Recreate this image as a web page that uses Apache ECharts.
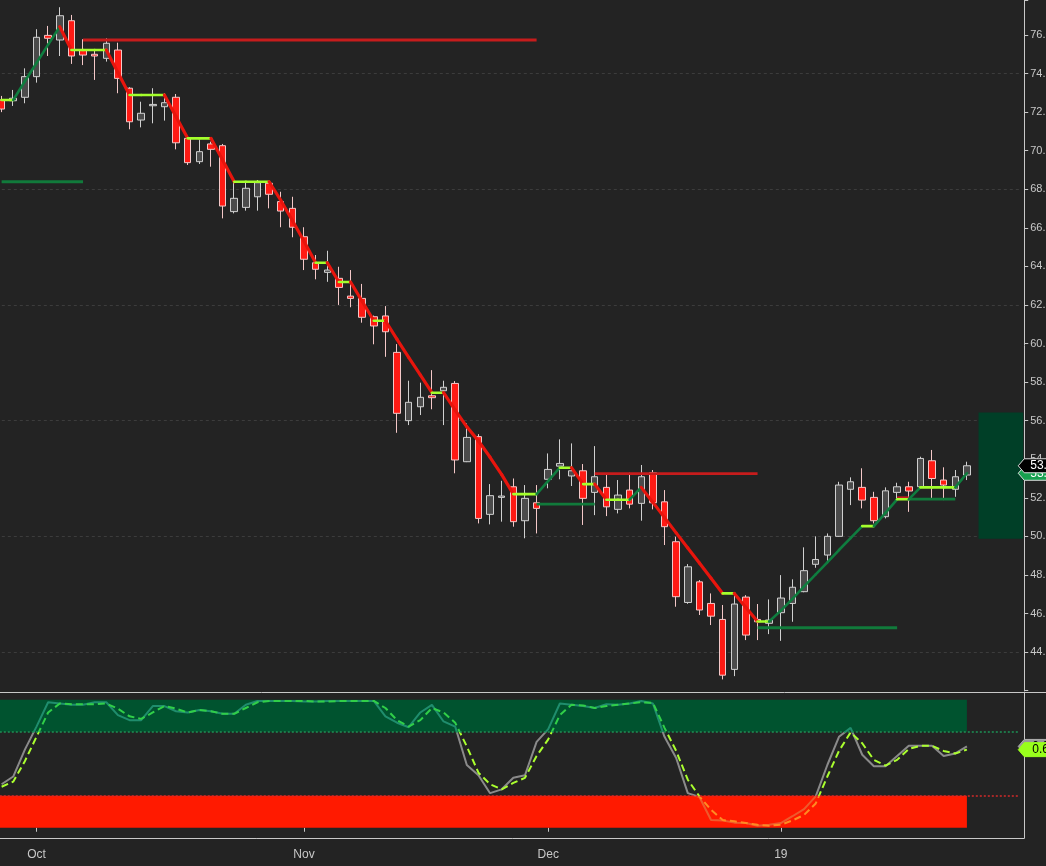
<!DOCTYPE html>
<html>
<head>
<meta charset="utf-8">
<script src="https://cdn.jsdelivr.net/npm/echarts@6/dist/echarts.min.js"></script>
<style>
html,body{margin:0;padding:0;background:#232323;}
#chart{width:1046px;height:866px;}
</style>
</head>
<body>
<div id="chart"></div>
<script>
// ---------------- DATA ----------------
const dates = [
'2018-09-26','2018-09-27','2018-09-28',
'2018-10-01','2018-10-02','2018-10-03','2018-10-04','2018-10-05',
'2018-10-08','2018-10-09','2018-10-10','2018-10-11','2018-10-12',
'2018-10-15','2018-10-16','2018-10-17','2018-10-18','2018-10-19',
'2018-10-22','2018-10-23','2018-10-24','2018-10-25','2018-10-26',
'2018-10-29','2018-10-30','2018-10-31',
'2018-11-01','2018-11-02',
'2018-11-05','2018-11-06','2018-11-07','2018-11-08','2018-11-09',
'2018-11-12','2018-11-13','2018-11-14','2018-11-15','2018-11-16',
'2018-11-19','2018-11-20','2018-11-21','2018-11-23',
'2018-11-26','2018-11-27','2018-11-28','2018-11-29','2018-11-30',
'2018-12-03','2018-12-04','2018-12-05','2018-12-06','2018-12-07',
'2018-12-10','2018-12-11','2018-12-12','2018-12-13','2018-12-14',
'2018-12-17','2018-12-18','2018-12-19','2018-12-20','2018-12-21',
'2018-12-24','2018-12-26','2018-12-27','2018-12-28',
'2018-12-31',
'2019-01-02','2019-01-03','2019-01-04',
'2019-01-07','2019-01-08','2019-01-09','2019-01-10','2019-01-11',
'2019-01-14','2019-01-15','2019-01-16','2019-01-17','2019-01-18',
'2019-01-22','2019-01-23','2019-01-24','2019-01-25',
'2019-01-28','2019-01-29','2019-01-30','2019-01-31'
];

const opens = [72.63,72.59,72.77,73.84,75.98,75.74,76.74,75.22,75.00,74.79,
75.22,73.24,71.59,72.33,72.28,72.77,70.64,69.43,70.35,70.26,
66.84,67.06,67.61,68.31,67.36,67.01,65.54,64.19,63.69,63.38,
62.46,62.34,61.39,61.43,59.54,56.00,56.72,57.29,57.55,57.93,
53.87,55.17,51.14,52.02,52.57,50.81,51.74,52.96,53.64,53.13,
53.40,52.28,52.54,51.40,52.40,51.71,53.30,51.79,49.72,46.57,
47.64,46.52,45.69,43.10,46.85,45.69,45.49,46.04,46.52,47.13,
48.55,49.03,50.00,52.44,52.54,52.02,51.02,52.28,52.57,52.57,
53.92,52.92,52.44,53.18];
const closes = [72.16,72.72,73.84,75.88,75.83,77.00,74.91,74.96,74.91,75.57,
73.75,71.50,71.94,72.40,72.49,70.41,69.38,69.95,70.07,67.13,
67.53,68.05,68.34,67.74,66.87,66.03,64.37,63.85,63.81,62.91,
62.34,61.36,60.91,60.61,56.38,56.95,57.21,57.19,57.73,53.96,
55.13,50.93,52.11,52.09,50.76,51.97,51.45,53.47,53.78,53.40,
51.97,53.09,51.53,52.14,51.67,53.09,51.74,50.50,46.87,48.42,
46.18,45.86,42.80,46.49,44.88,45.57,45.66,46.80,47.36,48.22,
48.80,50.00,52.66,52.83,51.88,50.81,52.36,52.57,52.35,54.04,
53.00,52.66,53.09,53.66];
const lows = [72.00,72.32,72.46,73.53,74.91,74.91,74.50,74.44,73.67,74.62,
72.98,71.11,71.21,71.42,71.56,70.07,69.26,69.31,69.17,66.49,
66.75,66.89,66.89,67.01,66.03,65.51,63.81,63.33,63.20,62.00,
61.88,61.08,59.96,59.31,55.37,55.77,56.29,56.59,55.77,53.27,
53.85,50.67,50.62,50.76,50.50,49.90,50.15,52.49,52.96,52.61,
50.59,51.10,51.05,51.19,51.45,50.81,51.40,49.55,46.35,46.50,
45.92,45.40,42.58,42.75,44.62,44.62,44.93,44.58,45.57,47.10,
48.37,48.73,49.98,51.62,51.45,50.67,50.93,51.97,51.27,52.55,
51.97,51.88,52.05,52.92];
const highs = [72.84,73.15,74.27,76.30,76.47,77.44,77.04,75.78,75.22,75.83,
75.60,73.29,72.54,73.24,72.98,72.94,70.70,70.55,70.47,70.35,
68.39,68.34,68.48,68.39,67.87,67.61,66.03,64.59,64.81,63.98,
63.81,63.09,61.45,61.94,59.97,58.07,57.97,58.62,58.07,58.05,
55.86,55.30,52.71,52.88,53.00,52.66,52.66,54.30,55.03,54.82,
53.75,54.68,53.18,52.92,53.30,53.70,53.44,52.40,49.98,48.56,
47.73,47.04,46.44,46.95,46.95,46.49,46.73,47.99,47.77,49.43,
50.00,50.15,52.83,53.06,53.53,52.31,52.54,52.78,52.83,54.13,
54.48,53.58,53.44,53.87];

// trailing trend line (one value per candle)
const trail = [72.63,72.63,73.60,74.55,75.50,76.43,75.22,75.22,75.22,75.22,
74.05,72.89,72.89,72.89,72.89,71.76,70.64,70.64,70.64,69.52,
68.39,68.39,68.39,68.39,67.43,66.38,65.30,64.19,64.19,63.19,
63.19,62.19,61.18,61.18,60.22,59.28,58.37,57.45,57.45,56.55,
55.68,54.95,54.10,53.20,52.19,52.19,52.19,52.88,53.56,53.56,
52.71,52.71,51.90,51.90,51.90,52.54,51.76,50.97,50.18,49.40,
48.62,47.83,47.04,47.04,46.31,45.58,45.58,46.15,46.76,47.40,
48.03,48.65,49.29,49.91,50.53,50.53,51.22,51.92,51.92,52.54,
52.54,52.54,52.54,53.27];

// support / resistance levels
const levelFrom  = [0, 7, 46, 51, 65, 77, 78];
const levelTo    = [7, 46, 51, 65, 77, 78, 82];
const levelValue = [68.39, 75.74, 51.67, 53.25, 45.26, 52.00, 51.93];
const levelKind  = ['support','resistance','support','resistance','support','resistance','support'];

// projected zone at the right
const zoneStart = 84;
const zoneHigh = 56.42;
const zoneLow = 49.87;

// stochastic oscillator
const stochK = [0.34,0.40,0.61,0.79,0.98,0.97,0.96,0.96,0.98,0.98,
0.88,0.84,0.84,0.95,0.95,0.91,0.90,0.92,0.91,0.89,
0.89,0.96,0.99,0.99,0.99,0.99,0.985,0.985,0.99,0.99,
0.99,0.99,0.99,0.87,0.82,0.785,0.90,0.96,0.83,0.79,
0.49,0.41,0.27,0.30,0.39,0.41,0.67,0.77,0.97,0.96,
0.95,0.935,0.965,0.96,0.97,0.99,0.97,0.71,0.545,0.27,
0.24,0.06,0.057,0.04,0.037,0.016,0.023,0.037,0.09,0.146,
0.245,0.49,0.71,0.78,0.57,0.48,0.48,0.56,0.64,0.64,
0.64,0.56,0.58,0.635];
const stochD = [0.32,0.36,0.52,0.71,0.90,0.97,0.965,0.965,0.965,0.97,
0.93,0.87,0.85,0.90,0.95,0.93,0.90,0.92,0.91,0.89,
0.89,0.935,0.98,0.99,0.99,0.99,0.99,0.985,0.985,0.99,
0.99,0.99,0.99,0.935,0.84,0.79,0.84,0.935,0.90,0.82,
0.635,0.43,0.34,0.30,0.35,0.39,0.56,0.69,0.88,0.96,
0.955,0.935,0.95,0.96,0.97,0.98,0.975,0.78,0.60,0.375,
0.245,0.14,0.06,0.05,0.037,0.023,0.016,0.023,0.057,0.10,
0.19,0.40,0.60,0.745,0.66,0.53,0.485,0.53,0.615,0.64,
0.64,0.60,0.58,0.61];
const overbought = 0.75;
const oversold = 0.25;

// price grid levels and axis marks
const priceGridLevels = [44, 50, 56, 62, 68, 74];
const axisMarkDates  = ['2018-10-01','2018-11-01','2018-12-03','2019-01-02'];
const axisMarkLabels = ['Oct','Nov','Dec','19'];

// ---------------- LAYOUT / STYLE ----------------
const SLOT = 11.63;
const GRID_LEFT = -4.2;
const GRID_W = SLOT * dates.length;
const GRID_RIGHT = 1046 - GRID_LEFT - GRID_W;
const AXIS_OFFSET = 5;
const AXIS_COLOR = '#c8c8c8';
const FONT = '"Liberation Sans", Arial, sans-serif';

const C_TRAIL_DOWN = '#e8150d';
const C_TRAIL_UP = '#0f7d3f';
const C_TRAIL_FLAT = '#a4ff2c';
const C_RES = '#c61c1c';
const C_SUP = '#117a3b';

const lastIdx = closes.length - 1;
const candleData = opens.map((o, i) => [o, closes[i], lows[i], highs[i]]);
const trailSegments = trail.slice(0, -1).map((v, i) => [i, v, trail[i + 1]]);
const levelData = levelFrom.map((f, k) => [f, levelTo[k], levelValue[k], k]);

function tagShape(x0, y, w, h) {
  return [[x0, y], [x0 + 6, y - h / 2], [x0 + w, y - h / 2], [x0 + w, y + h / 2], [x0 + 6, y + h / 2]];
}

const chart = echarts.init(document.getElementById('chart'), null, {renderer: 'canvas'});

const option = {
  backgroundColor: '#232323',
  animation: false,
  textStyle: {fontFamily: FONT},
  grid: [
    {left: GRID_LEFT, width: GRID_W, top: 0, height: 690.6, outerBoundsMode: 'none', containLabel: false},
    {left: GRID_LEFT, width: GRID_W, top: 692, height: 146, outerBoundsMode: 'none', containLabel: false}
  ],
  xAxis: [
    {type: 'category', gridIndex: 0, data: dates, boundaryGap: true,
     axisLine: {show: false}, axisTick: {show: false}, axisLabel: {show: false}, splitLine: {show: false}},
    {type: 'category', gridIndex: 1, data: dates, boundaryGap: true,
     axisLine: {show: false},
     axisTick: {show: true, alignWithLabel: true, length: 4, lineStyle: {color: AXIS_COLOR},
       interval: (i, v) => axisMarkDates.indexOf(v) >= 0},
     axisLabel: {show: true, color: AXIS_COLOR, fontSize: 12, fontFamily: FONT, margin: 11,
       interval: (i, v) => axisMarkDates.indexOf(v) >= 0,
       formatter: v => { const k = axisMarkDates.indexOf(v); return k >= 0 ? axisMarkLabels[k] : ''; }},
     splitLine: {show: false}}
  ],
  yAxis: [
    {type: 'value', gridIndex: 0, position: 'right', offset: AXIS_OFFSET,
     min: 42, max: 77.815, interval: 2, scale: true,
     axisLine: {show: true, lineStyle: {color: AXIS_COLOR}},
     axisTick: {show: true, length: 4, lineStyle: {color: AXIS_COLOR}},
     axisLabel: {color: AXIS_COLOR, fontSize: 11, fontFamily: FONT, margin: 6,
       formatter: v => (Math.abs(v / 2 - Math.round(v / 2)) < 1e-6 && v > 42.5) ? v.toFixed(2) : ''},
     splitLine: {show: false}},
    {type: 'value', gridIndex: 1, position: 'right', offset: AXIS_OFFSET,
     min: -0.08, max: 1.06,
     axisLine: {show: true, lineStyle: {color: AXIS_COLOR}},
     axisTick: {show: false}, axisLabel: {show: false}, splitLine: {show: false}}
  ],
  visualMap: [
    {type: 'piecewise', show: false, seriesIndex: 6, dimension: 1,
     pieces: [{lt: oversold, color: '#ee5a2c'}, {gte: oversold, lte: overbought, color: '#8a8a8a'}, {gt: overbought, color: '#1f8d6d'}]},
    {type: 'piecewise', show: false, seriesIndex: 7, dimension: 1,
     pieces: [{lt: oversold, color: '#ff8a22'}, {gte: oversold, lte: overbought, color: '#aaff2e'}, {gt: overbought, color: '#30cf48'}]}
  ],
  graphic: [
    {type: 'line', silent: true, z: 50, shape: {x1: 0, y1: 692.5, x2: 1046, y2: 692.5}, style: {stroke: AXIS_COLOR, lineWidth: 1}},
    {type: 'line', silent: true, z: 50, shape: {x1: 0, y1: 838.5, x2: 1024.5, y2: 838.5}, style: {stroke: AXIS_COLOR, lineWidth: 1}}
  ],
  series: [
    // 0 candles
    {type: 'candlestick', name: 'price', xAxisIndex: 0, yAxisIndex: 0, data: candleData, barWidth: 7, z: 3,
     itemStyle: {color: '#4b4b4b', color0: '#ff1a14', borderColor: '#d0d0d0', borderColor0: '#f4c8c8', borderWidth: 1},
     markLine: {silent: true, symbol: 'none', label: {show: false}, z: 1,
       lineStyle: {color: '#3c3c3c', type: [3, 3], width: 1},
       data: priceGridLevels.map(v => ({yAxis: v}))}},
    // 1 levels
    {type: 'custom', name: 'levels', xAxisIndex: 0, yAxisIndex: 0, z: 4, encode: {x: [0, 1], y: 2},
     renderItem: (params, api) => {
       const v = api.value(2);
       const p1 = api.coord([api.value(0), v]);
       const p2 = api.coord([api.value(1), v]);
       const kind = levelKind[api.value(3)];
       return {type: 'line', shape: {x1: p1[0], y1: p1[1], x2: p2[0], y2: p2[1]},
         style: {stroke: kind === 'resistance' ? C_RES : C_SUP, lineWidth: 2.8}};
     },
     data: levelData},
    // 2 trail
    {type: 'custom', name: 'trail', xAxisIndex: 0, yAxisIndex: 0, z: 5, encode: {x: 0, y: [1, 2]},
     renderItem: (params, api) => {
       const i = api.value(0), a = api.value(1), b = api.value(2);
       const p1 = api.coord([i, a]);
       const p2 = api.coord([i + 1, b]);
       const col = b > a ? C_TRAIL_UP : (b < a ? C_TRAIL_DOWN : C_TRAIL_FLAT);
       return {type: 'line', shape: {x1: p1[0], y1: p1[1], x2: p2[0], y2: p2[1]},
         style: {stroke: col, lineWidth: b < a ? 3.2 : 2.6, lineCap: 'round'}};
     },
     data: trailSegments},
    // 3 zone
    {type: 'custom', name: 'zone', xAxisIndex: 0, yAxisIndex: 0, z: 2, clip: false, encode: {x: 0, y: [1, 2]},
     renderItem: (params, api) => {
       const pt = api.coord([api.value(0), api.value(2)]);
       const pb = api.coord([api.value(0), api.value(1)]);
       const x2 = params.coordSys.x + params.coordSys.width + AXIS_OFFSET - 1;
       return {type: 'rect', shape: {x: pt[0], y: pt[1], width: x2 - pt[0], height: pb[1] - pt[1]},
         style: {fill: '#003f27'}};
     },
     data: [[zoneStart, zoneLow, zoneHigh]]},
    // 4 price tags
    {type: 'custom', name: 'priceTags', xAxisIndex: 0, yAxisIndex: 0, z: 20, clip: false, encode: {x: 0, y: 1},
     renderItem: (params, api) => {
       const v = api.value(1), kind = api.value(2);
       const y = api.coord([api.value(0), v])[1];
       const x0 = params.coordSys.x + params.coordSys.width + AXIS_OFFSET - 6;
       return {type: 'group', children: [
         {type: 'polygon', shape: {points: tagShape(x0, y, 40, 14)},
          style: {fill: kind === 1 ? '#000000' : '#17a04f', stroke: '#dcdcdc', lineWidth: 1}},
         {type: 'text', style: {text: v.toFixed(2), x: x0 + 12, y: y, verticalAlign: 'middle', align: 'left',
           fill: '#ffffff', font: '12px ' + FONT}}
       ]};
     },
     data: [[lastIdx, trail[lastIdx], 0], [lastIdx, closes[lastIdx], 1]]},
    // 5 bands
    {type: 'custom', name: 'bands', xAxisIndex: 1, yAxisIndex: 1, z: 1, encode: {x: 0, y: [1, 2]},
     renderItem: (params, api) => {
       const pt = api.coord([api.value(0), api.value(2)]);
       const pb = api.coord([api.value(0), api.value(1)]);
       const x1 = params.coordSys.x;
       return {type: 'rect', shape: {x: x1, y: pt[1], width: pt[0] - x1, height: pb[1] - pt[1]},
         style: {fill: api.value(3) === 0 ? '#00532f' : '#ff1a00'}};
     },
     markLine: {silent: true, symbol: 'none', label: {show: false},
       data: [
         {yAxis: overbought, lineStyle: {color: '#1d9255', type: [2, 2], width: 1.5}},
         {yAxis: oversold, lineStyle: {color: '#d42a2a', type: [2, 2], width: 1.5}}
       ]},
     data: [[lastIdx, overbought, 1, 0], [lastIdx, 0, oversold, 1]]},
    // 6 %K
    {type: 'line', name: 'K', xAxisIndex: 1, yAxisIndex: 1, z: 3, data: stochK, symbol: 'none', smooth: false,
     lineStyle: {width: 2}},
    // 7 %D
    {type: 'line', name: 'D', xAxisIndex: 1, yAxisIndex: 1, z: 4, data: stochD, symbol: 'none', smooth: false,
     lineStyle: {width: 2, type: [7, 4]}},
    // 8 oscillator tags
    {type: 'custom', name: 'oscTags', xAxisIndex: 1, yAxisIndex: 1, z: 20, clip: false, encode: {x: 0, y: 1},
     renderItem: (params, api) => {
       const v = api.value(1), kind = api.value(2);
       const y = api.coord([api.value(0), v])[1];
       const x0 = params.coordSys.x + params.coordSys.width + AXIS_OFFSET - 6;
       return {type: 'group', children: [
         {type: 'polygon', shape: {points: tagShape(x0, y, 40, 14)},
          style: {fill: kind === 1 ? '#99ff1c' : '#9a9a9a', stroke: kind === 1 ? '#99ff1c' : '#b0b0b0', lineWidth: 1}},
         {type: 'text', style: {text: v.toFixed(2), x: x0 + 14, y: y, verticalAlign: 'middle', align: 'left',
           fill: '#000000', font: '12px ' + FONT}}
       ]};
     },
     data: [[lastIdx, stochK[lastIdx], 0], [lastIdx, stochD[lastIdx], 1]]}
  ]
};
chart.setOption(option);
</script>
</body>
</html>
